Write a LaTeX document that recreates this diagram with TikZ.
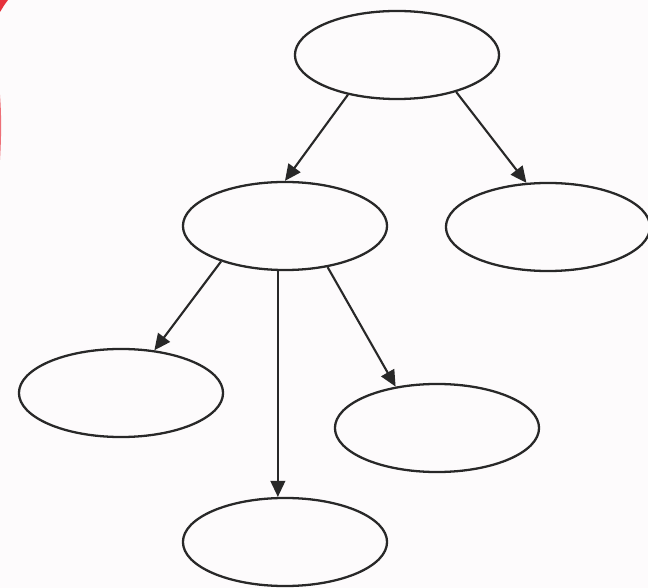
\documentclass[tikz,border=0pt]{standalone}
\usetikzlibrary{shapes.geometric,arrows.meta}
\definecolor{paper}{RGB}{253,251,252}
\definecolor{ink}{RGB}{40,40,40}
\definecolor{corner}{RGB}{230,50,60}
\tikzset{
  blob/.style={ellipse, draw=ink, line width=0.65pt, inner sep=0pt, minimum width=2.04cm, minimum height=0.88cm},
  link/.style={draw=ink, line width=0.6pt, -{Triangle[length=4.6pt,width=4.2pt]}}
}
\begin{document}
\begin{tikzpicture}[x=0.01cm,y=-0.01cm]
\fill[paper] (0,0) rectangle (648,588);
\useasboundingbox (0,0) rectangle (648,588);
\fill[corner] (0,0) -- (8,0) .. controls (4,5) and (2,9) .. (0,12) -- cycle;
\fill[corner!70] (0,95) .. controls (1.5,115) and (1.5,135) .. (0,160) -- cycle;
\node[blob] (top) at (397,55) {};
\node[blob] (mid) at (285,226) {};
\node[blob] (right) at (548,227) {};
\node[blob] (left) at (121,393) {};
\node[blob] (rb) at (437,428) {};
\node[blob] (bot) at (285,542) {};
\draw[link] (top.219) -- (mid.90);
\draw[link] (top.328) -- (right.116);
\draw[link] (mid.209) -- (left.52);
\draw[link] (mid.261) -- (bot.99);
\draw[link] (mid.316) -- (rb.135);
\end{tikzpicture}
\end{document}
